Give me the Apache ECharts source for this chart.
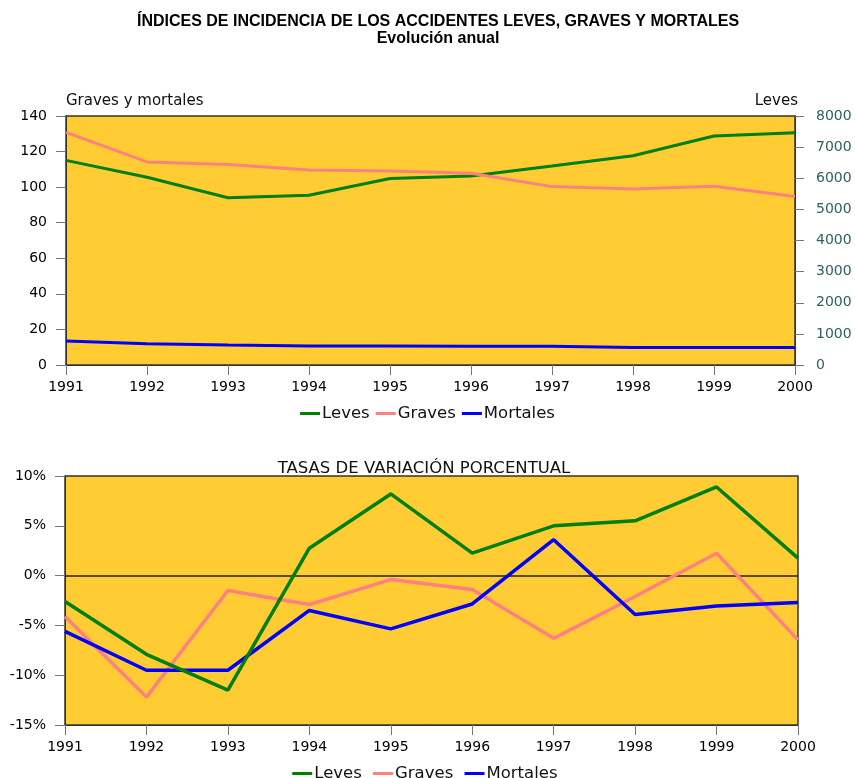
<!DOCTYPE html>
<html>
<head>
<meta charset="utf-8">
<script src="https://cdn.jsdelivr.net/npm/echarts@6/dist/echarts.min.js"></script>
<style>
html,body{margin:0;padding:0;background:#fff;}
#c{width:855px;height:778px;}
</style>
</head>
<body>
<div id="c"></div>
<script>
const years = ['1991','1992','1993','1994','1995','1996','1997','1998','1999','2000'];
// Top chart: indices
const levesIdx = [6575, 6030, 5375, 5455, 5990, 6075, 6395, 6725, 7355, 7465];
const gravesIdx = [130.8, 114.2, 112.7, 109.7, 109.1, 107.8, 100.3, 99.0, 100.5, 94.7];
const mortalesIdx = [13.5, 12.0, 11.2, 10.7, 10.7, 10.5, 10.5, 9.9, 9.9, 9.9];
// Bottom chart: percentage change
const levesVar = [-2.6, -7.9, -11.5, 2.75, 8.2, 2.25, 5.0, 5.5, 8.9, 1.75];
const gravesVar = [-4.1, -12.2, -1.5, -2.9, -0.4, -1.4, -6.3, -2.1, 2.25, -6.45];
const mortalesVar = [-5.6, -9.5, -9.5, -3.5, -5.35, -2.85, 3.6, -3.9, -3.05, -2.7];

const FONT = '"DejaVu Sans", Verdana, sans-serif';
const TFONT = '"Liberation Sans", Arial, sans-serif';
const GREEN = '#008000', PINK = '#FF8080', BLUE = '#0000FF';
const chart = echarts.init(document.getElementById('c'));

const xAxisBase = (gridIndex) => ({
  type: 'category', data: years, gridIndex, boundaryGap: false,
  axisLine: {show: true, onZero: false, lineStyle: {color: '#333', width: 1}},
  axisTick: {show: true, length: 10, alignWithLabel: true, lineStyle: {color: '#777'}},
  axisLabel: {color: '#000', fontFamily: FONT, fontSize: 14, margin: 15},
  splitLine: {show: false}
});

const legendText = {fontFamily: FONT, fontSize: 16.5, color: '#111', padding: [0,0,0,-3]};

chart.setOption({
  animation: false,
  backgroundColor: '#fff',
  title: [
    {text: 'ÍNDICES DE INCIDENCIA DE LOS ACCIDENTES LEVES, GRAVES Y MORTALES\nEvolución anual',
     left: 433, top: 8, textAlign: 'center',
     textStyle: {fontFamily: TFONT, fontSize: 16, fontWeight: 'bold', color: '#000', lineHeight: 17}},
    {text: 'TASAS DE VARIACIÓN PORCENTUAL', left: 419, top: 455, textAlign: 'center',
     textStyle: {fontFamily: FONT, fontSize: 16.5, fontWeight: 'normal', color: '#111'}}
  ],
  legend: [
    {data: ['Leves', 'Graves', 'Mortales'], left: 'center', top: 400,
     itemWidth: 20, itemHeight: 3, itemGap: 6, icon: 'rect',
     textStyle: legendText, selectedMode: false},
    {data: ['Leves ', 'Graves ', 'Mortales '], left: 'center', top: 760,
     itemWidth: 20, itemHeight: 3, itemGap: 6, icon: 'rect',
     textStyle: legendText, selectedMode: false}
  ],
  grid: [
    {left: 66, right: 60, top: 116, height: 249, show: true, backgroundColor: '#FFCC33',
     borderColor: '#333', borderWidth: 1.5, containLabel: false},
    {left: 65, right: 57, top: 476, height: 249, show: true, backgroundColor: '#FFCC33',
     borderColor: '#333', borderWidth: 1.5, containLabel: false}
  ],
  xAxis: [xAxisBase(0), xAxisBase(1)],
  yAxis: [
    {type: 'value', gridIndex: 0, min: 0, max: 140, interval: 20,
     name: 'Graves y mortales', nameLocation: 'end', nameGap: 7,
     nameTextStyle: {fontFamily: FONT, fontSize: 15, color: '#111', align: 'left'},
     axisLine: {show: true, lineStyle: {color: '#333'}},
     axisTick: {show: true, length: 10, lineStyle: {color: '#777'}},
     axisLabel: {fontFamily: FONT, fontSize: 14, color: '#000', margin: 19},
     splitLine: {show: false}},
    {type: 'value', gridIndex: 0, min: 0, max: 8000, interval: 1000, position: 'right',
     name: 'Leves', nameLocation: 'end', nameGap: 7,
     nameTextStyle: {fontFamily: FONT, fontSize: 15, color: '#111', align: 'right', padding: [0,-3,0,0]},
     axisLine: {show: true, lineStyle: {color: '#333'}},
     axisTick: {show: true, length: 9, lineStyle: {color: '#777'}},
     axisLabel: {fontFamily: FONT, fontSize: 14, color: '#2F5F5F', margin: 21, formatter: v => String(v)},
     splitLine: {show: false}},
    {type: 'value', gridIndex: 1, min: -15, max: 10, interval: 5,
     axisLine: {show: true, lineStyle: {color: '#333'}},
     axisTick: {show: true, length: 10, lineStyle: {color: '#777'}},
     axisLabel: {fontFamily: FONT, fontSize: 14, color: '#000', margin: 19, formatter: v => v + '%'},
     splitLine: {show: false}}
  ],
  series: [
    {name: 'Leves', type: 'line', xAxisIndex: 0, yAxisIndex: 1, data: levesIdx,
     symbol: 'none', lineStyle: {color: GREEN, width: 3}, itemStyle: {color: GREEN}},
    {name: 'Graves', type: 'line', xAxisIndex: 0, yAxisIndex: 0, data: gravesIdx,
     symbol: 'none', lineStyle: {color: PINK, width: 3}, itemStyle: {color: PINK}},
    {name: 'Mortales', type: 'line', xAxisIndex: 0, yAxisIndex: 0, data: mortalesIdx,
     symbol: 'none', lineStyle: {color: BLUE, width: 3}, itemStyle: {color: BLUE}},
    {name: 'Leves ', type: 'line', xAxisIndex: 1, yAxisIndex: 2, data: levesVar,
     symbol: 'none', z: 3, lineStyle: {color: GREEN, width: 3.5}, itemStyle: {color: GREEN},
     markLine: {silent: true, symbol: 'none', label: {show: false}, z: 1,
       lineStyle: {color: '#222', width: 1.5, type: 'solid'}, data: [{yAxis: 0}]}},
    {name: 'Graves ', type: 'line', xAxisIndex: 1, yAxisIndex: 2, data: gravesVar,
     symbol: 'none', z: 2, lineStyle: {color: PINK, width: 3.5}, itemStyle: {color: PINK}},
    {name: 'Mortales ', type: 'line', xAxisIndex: 1, yAxisIndex: 2, data: mortalesVar,
     symbol: 'none', z: 2, lineStyle: {color: BLUE, width: 3.5}, itemStyle: {color: BLUE}}
  ]
});
</script>
</body>
</html>
